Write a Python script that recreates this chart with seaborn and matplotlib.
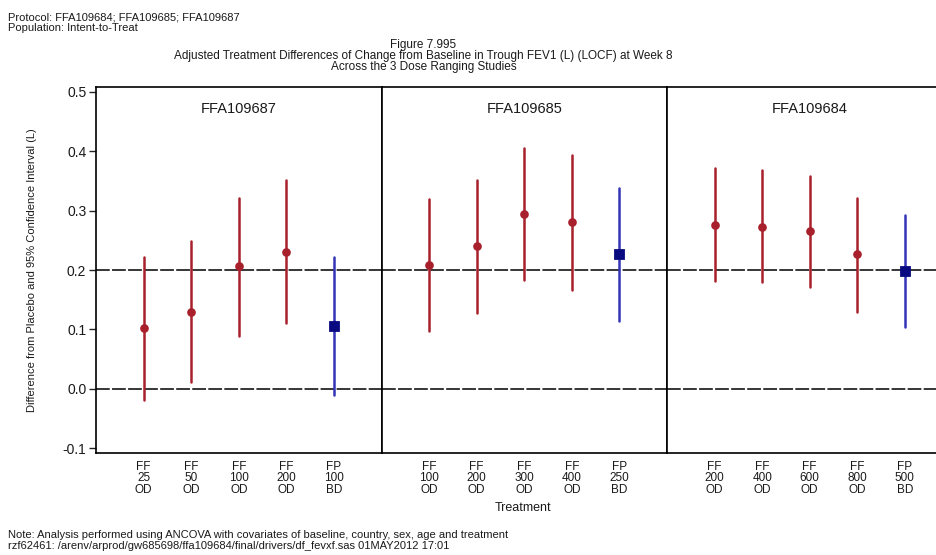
import numpy as np
import pandas as pd
import matplotlib
matplotlib.use('Agg')
import matplotlib.pyplot as plt
import seaborn as sns

# 数据：三个研究，各5个治疗组
studies = ['FFA109687', 'FFA109685', 'FFA109684']
treatments = [
    ['FF\n25\nOD', 'FF\n50\nOD', 'FF\n100\nOD', 'FF\n200\nOD', 'FP\n100\nBD'],
    ['FF\n100\nOD', 'FF\n200\nOD', 'FF\n300\nOD', 'FF\n400\nOD', 'FP\n250\nBD'],
    ['FF\n200\nOD', 'FF\n400\nOD', 'FF\n600\nOD', 'FF\n800\nOD', 'FP\n500\nBD'],
]
drug = ['FF', 'FF', 'FF', 'FF', 'FP']
estimate = [
    [0.102, 0.129, 0.206, 0.230, 0.106],
    [0.208, 0.240, 0.294, 0.281, 0.227],
    [0.276, 0.273, 0.266, 0.227, 0.199],
]
lower = [
    [-0.019, 0.011, 0.089, 0.111, -0.010],
    [0.097, 0.128, 0.183, 0.167, 0.114],
    [0.181, 0.179, 0.172, 0.130, 0.104],
]
upper = [
    [0.222, 0.249, 0.321, 0.351, 0.222],
    [0.319, 0.351, 0.405, 0.393, 0.338],
    [0.372, 0.368, 0.359, 0.321, 0.292],
]

# 整理成长表：每个组三行（下限、估计、上限），用中位数当点、最小最大当区间
rows = []
for s, study in enumerate(studies):
    for i, trt in enumerate(treatments[s]):
        for v in (lower[s][i], estimate[s][i], upper[s][i]):
            rows.append({'Study': study, 'Treatment': trt, 'Drug': drug[i], 'Value': v})
df = pd.DataFrame(rows)

sns.set_style('ticks')
plt.rcParams['font.family'] = ['Liberation Sans', 'DejaVu Sans']
txt = '#1a1a1a'

fig, axes = plt.subplots(1, 3, figsize=(9.37, 5.55), dpi=100, sharey=True)
fig.subplots_adjust(left=0.1025, right=1.0165, top=0.8432, bottom=0.1838, wspace=0)

for s, ax in enumerate(axes):
    sub = df[df['Study'] == studies[s]]
    sns.pointplot(data=sub, x='Treatment', y='Value', hue='Drug', order=treatments[s],
                  hue_order=['FF', 'FP'], palette={'FF': '#a8202c', 'FP': '#3434b8'},
                  estimator=np.median, errorbar=lambda v: (v.min(), v.max()),
                  markers=['o', 's'], linestyle='none', dodge=False, legend=False,
                  err_kws={'linewidth': 1.8}, markersize=4.2, ax=ax)
    # 点画在误差线上面，蓝色方块颜色深一点
    for ln in ax.lines:
        if ln.get_marker() in ('o', 's'):
            ln.set_zorder(5)
        if ln.get_marker() == 's':
            ln.set_markersize(5.6)
            ln.set_markerfacecolor('#0a0a80')
            ln.set_markeredgecolor('#0a0a80')
    ax.axhline(0.0, color='black', lw=1.1, dashes=(9, 1.5), zorder=0)
    ax.axhline(0.2, color='black', lw=1.1, dashes=(9, 1.5), zorder=0)
    ax.set_xlim(-1, 5)
    ax.set_ylim(-0.108, 0.508)
    ax.set_xlabel('')
    ax.set_ylabel('')
    for sp in ax.spines.values():
        sp.set_visible(True)
        sp.set_color('black')
        sp.set_linewidth(1.2)
    ax.tick_params(axis='x', length=0, pad=6, labelsize=8.5, labelcolor=txt)
    for lab in ax.get_xticklabels():
        lab.set_linespacing(0.9)
    ax.text(0.5, 0.94, studies[s], transform=ax.transAxes, ha='center', va='center',
            fontsize=10.5, color=txt)
    if s > 0:
        ax.tick_params(axis='y', left=False, labelleft=False)

axes[0].set_yticks([-0.1, 0.0, 0.1, 0.2, 0.3, 0.4, 0.5])
axes[0].set_yticklabels(['-0.1', '0.0', '0.1', '0.2', '0.3', '0.4', '0.5'])
axes[0].tick_params(axis='y', length=5, width=1, labelsize=10, labelcolor=txt, pad=2)
fig.text(0.034, 0.513, 'Difference from Placebo and 95% Confidence Interval (L)', rotation=90,
         ha='center', va='center', fontsize=8, color=txt)

# 表头和脚注
fig.text(0.009, 0.969, 'Protocol: FFA109684; FFA109685; FFA109687', fontsize=8, color=txt, va='center')
fig.text(0.009, 0.949, 'Population: Intent-to-Treat', fontsize=8, color=txt, va='center')
fig.text(0.452, 0.919, 'Figure 7.995', fontsize=8.5, color=txt, ha='center', va='center')
fig.text(0.452, 0.899, 'Adjusted Treatment Differences of Change from Baseline in Trough FEV1 (L) (LOCF) at Week 8',
         fontsize=8.5, color=txt, ha='center', va='center')
fig.text(0.452, 0.879, 'Across the 3 Dose Ranging Studies', fontsize=8.5, color=txt, ha='center', va='center')
fig.text(0.558, 0.085, 'Treatment', fontsize=9, color=txt, ha='center', va='center')
fig.text(0.009, 0.036, 'Note: Analysis performed using ANCOVA with covariates of baseline, country, sex, age and treatment',
         fontsize=8, color=txt, va='center')
fig.text(0.009, 0.016, 'rzf62461: /arenv/arprod/gw685698/ffa109684/final/drivers/df_fevxf.sas 01MAY2012 17:01',
         fontsize=8, color=txt, va='center')

fig.savefig('out.png', dpi=100)
